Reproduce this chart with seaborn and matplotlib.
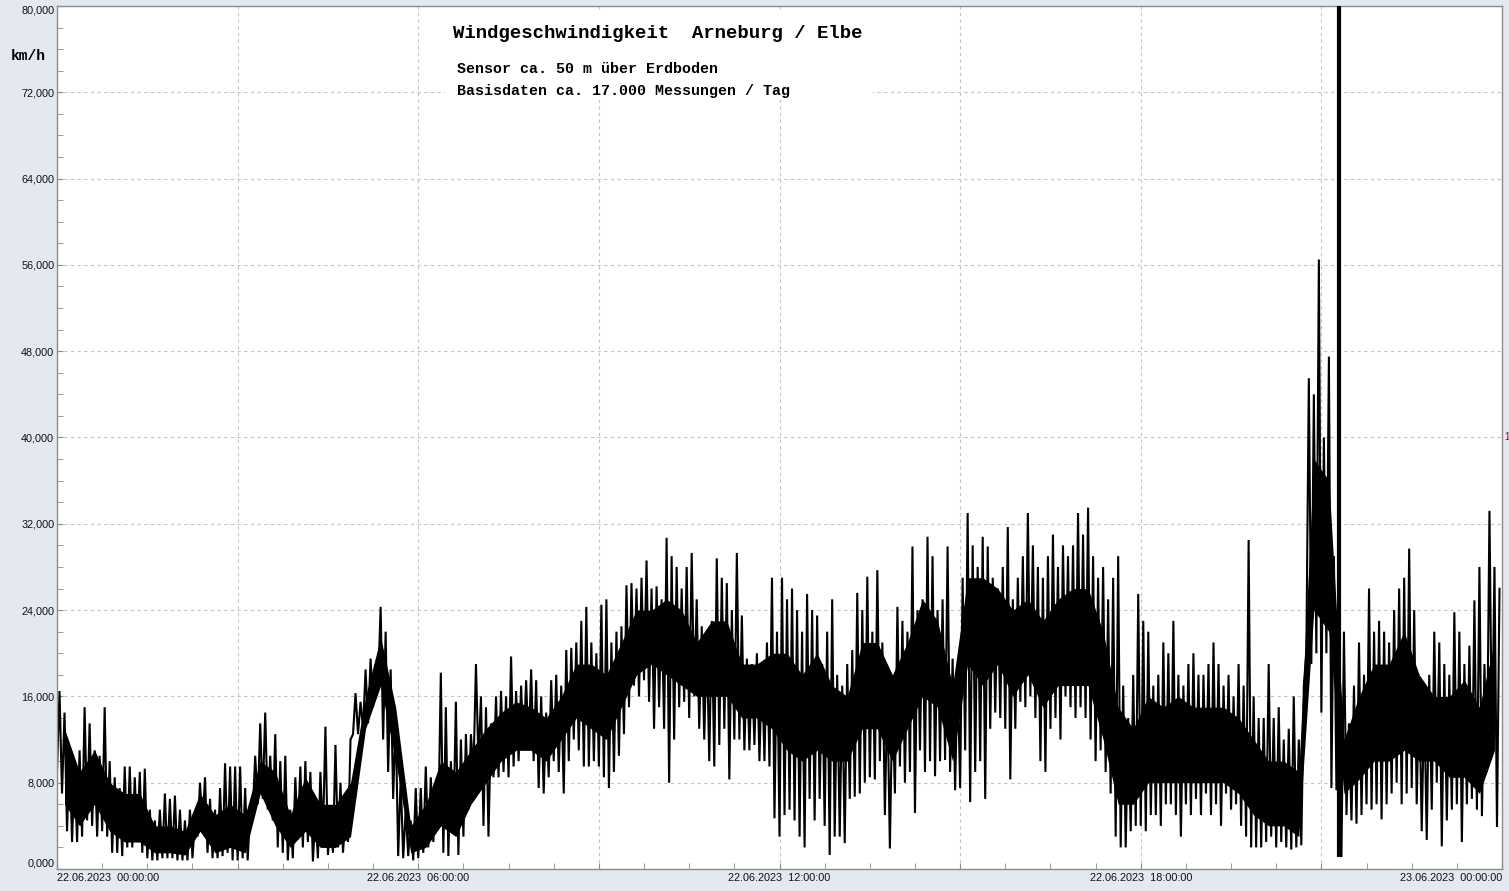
import numpy as np
import pandas as pd
import matplotlib
matplotlib.use("Agg")
import matplotlib.pyplot as plt
import matplotlib.ticker as mticker
import matplotlib.patches as mpatches
import seaborn as sns

# wind speed in km/h, one low and one high reading per 5 minutes (12 per hour)
lo = [
    9, 7, 3.5, 2.5, 2.5, 3, 4.5, 4, 3, 3.5, 3, 1.5,            # 00
    1.5, 1.2, 2, 2, 2.5, 1.5, 1, 0.8, 0.8, 1, 1, 1,            # 01
    0.8, 0.8, 0.8, 1, 3, 4, 1.5, 1, 1, 1.2, 1.5, 0.8,          # 02
    0.8, 1, 0.8, 5, 6, 6.5, 5.5, 4.5, 2, 1.5, 0.8, 1,          # 03
    3, 2, 2.5, 0.7, 1, 3, 1.3, 1.5, 2, 1.5, 2.5, 12.5,         # 04
    12.5, 13, 13.5, 15, 17, 12, 9, 6.5, 1.2, 1, 1.2, 0.8,      # 05
    1, 1.5, 2, 2.5, 4, 1.5, 1.2, 3.5, 1.3, 3, 5.5, 9,          # 06
    10, 4, 3, 8.5, 8.5, 9, 8.5, 9.5, 10, 11, 11, 10,           # 07
    7.5, 7, 8.5, 10, 9, 7, 10, 12, 11, 9.5, 9.5, 10,           # 08
    9.5, 8.5, 7.5, 9, 10.5, 12.5, 15, 17, 16, 17.5, 15.5, 13,  # 09
    15, 13, 8, 12, 15, 15.5, 14, 16, 13, 12, 10, 9.5,          # 10
    11.5, 13, 8.3, 12, 12, 11, 11, 11.5, 10, 10, 9.5, 4.7,     # 11
    3, 5, 5.5, 4.5, 3, 2, 6.5, 4.5, 6.5, 4, 1.3, 3,            # 12
    3, 2.4, 6.5, 6.7, 7, 8, 8.5, 8.3, 10, 5, 1.9, 7,           # 13
    9.5, 8, 9, 5.2, 11, 9, 10, 8.6, 10, 10.1, 9, 7.3,          # 14
    7.5, 11, 6.2, 9, 10, 6.5, 13, 14.5, 14, 13, 8.3, 13,       # 15
    15.5, 15, 16, 14, 10, 9, 13, 14, 12, 16, 15, 14,           # 16
    15, 14, 12, 10, 11, 9, 7, 3, 2, 2, 3.5, 4,                 # 17
    4, 3.5, 5, 5, 4, 6, 6, 5, 3, 6, 5, 6.5,                    # 18
    5, 7, 5, 6, 4, 7, 5.5, 6, 4, 3, 2, 2,                      # 19
    2, 2.5, 3, 2, 2.5, 2, 1.8, 2, 2.2, 20, 19, 20,             # 20
    14.5, 20, 7.5, 7.3, 1.1, 5, 4.5, 4.2, 5, 6, 5.5, 6,        # 21
    4.6, 6, 7, 8, 6, 7, 7.5, 6, 3.5, 2.7, 5.5, 8,              # 22
    2.1, 4.5, 5.5, 6, 2.5, 6, 6.5, 5.5, 4.9, 9, 11, 3.9,       # 23
]
hi = [
    16.5, 14.5, 11, 9.5, 11, 15, 13.5, 11, 10.5, 15, 10, 8.5,          # 00
    7.5, 9.5, 9.5, 8.5, 9, 9.3, 5.5, 4.5, 5.5, 7, 6.5, 6.8,            # 01
    5.5, 4.5, 5.5, 4.5, 8, 8.5, 6.5, 5.5, 7.5, 9.8, 9.5, 9.5,          # 02
    9.5, 7.5, 5.5, 10.5, 13.5, 14.5, 10.5, 12.5, 10, 10.5, 5.5, 8.5,   # 03
    9.5, 10, 9, 5, 9, 13.2, 4.5, 11.5, 8, 5, 12, 16.3,                 # 04
    15.5, 18.5, 19.5, 19, 24.3, 22, 18.5, 14, 8.5, 5.5, 4.5, 7.5,      # 05
    7.5, 9.5, 8.5, 8, 18.2, 15, 10, 15.5, 12, 12.5, 12.5, 19,          # 06
    16, 15, 13.5, 16, 16.5, 16, 19.7, 16.5, 17, 17.5, 18.5, 17.5,      # 07
    16, 14.5, 17.5, 18, 17, 20.3, 20.5, 21, 23, 24.3, 21, 20,          # 08
    24.5, 25, 21, 22, 22.5, 26.3, 26.5, 26, 27, 28.6, 26, 26.2,        # 09
    25, 30.7, 29, 28, 26, 28, 29.3, 25, 22.5, 21.5, 23, 28.8,          # 10
    27, 26.5, 24, 29.3, 23.5, 19.5, 19, 20, 19, 21, 27, 22,            # 11
    27, 25, 26, 24, 22, 25.5, 24, 23.5, 19, 22, 25, 18,                # 12
    17, 19, 20.3, 25.6, 24, 27.1, 22, 27.7, 21, 16.5, 16, 24.3,        # 13
    23, 22, 29.9, 24, 25, 30.8, 29, 24, 25, 29.9, 19.5, 18.5,          # 14
    27, 33, 30, 28, 30.8, 29.9, 27, 26, 28, 31.7, 25, 27,              # 15
    29, 33, 30, 28, 27, 29, 31, 28, 30, 29, 30, 33,                    # 16
    31, 33.5, 29, 27, 28, 25, 27, 29, 17, 14, 18, 25.5,                # 17
    23, 22, 17, 18, 21, 20, 23, 18, 17, 19, 20, 18,                    # 18
    18, 19, 21, 19, 17, 18, 16, 19, 17, 30.5, 16, 14,                  # 19
    14, 19, 14, 15, 12, 13, 16, 12, 17, 45.5, 44, 56.5,                # 20
    40, 47.5, 29, 27, 22, 13.5, 17, 21, 18, 26, 22, 23,                # 21
    22, 21, 24, 26, 27, 29.7, 24, 17, 16, 18, 22, 21,                  # 22
    19, 18, 23.8, 22, 19, 20.7, 24.9, 28, 19, 33.2, 28, 26,            # 23
]

# dense core of the trace, per 15 minutes (4 per hour)
band_lo = [
    6, 4, 6, 3.5,  2.5, 2.5, 1.5, 1.5,  1.3, 3.5, 1.5, 2,  1.5, 7, 4, 2,          # 00-03
    3.5, 2, 2, 3,  13, 17, 10, 1.5,  2, 4, 3, 6,  8, 10, 11, 11,                  # 04-07
    10, 12, 14, 13,  12, 15, 18, 19,  18, 17, 16, 16,  16, 14, 14, 13,            # 08-11
    11, 10, 11, 10,  10, 13, 13, 10,  13, 16, 15, 10,  19, 17, 19, 16,            # 12-15
    18, 15, 17, 17,  17, 12, 6, 6,  8, 8, 8, 8,  8, 8, 7, 5,                      # 16-19
    4, 4, 3, 24,  22, 7, 8.3, 10,  10, 11, 10, 10,  8.5, 8.5, 7, 11,              # 20-23
]
band_hi = [
    13, 9, 11, 8,  7, 7, 4, 4,  3.5, 7, 5, 6,  5, 10, 9, 5,                       # 00-03
    8.5, 6, 6, 8,  16, 21.5, 15, 4,  6, 10, 9, 11,  13, 14.5, 15.5, 15,           # 04-07
    14, 16, 19, 19,  18, 21, 24, 24,  25, 24, 21, 23,  23, 19, 19, 20,            # 08-11
    20, 18, 20, 17,  16, 21, 21, 18,  21, 25, 23, 17,  27, 27, 26, 24,            # 12-15
    25, 23, 25, 26,  26, 22, 15, 13,  16, 15, 16, 15,  15, 15, 14, 12,            # 16-19
    10, 10, 9, 38,  36, 12, 16, 19,  19, 22, 18, 16,  16, 17.5, 15, 21,           # 20-23
]

# sensor outlier (thick black bar)
spike_time = "2023-06-22 21:18"
spike_low = 1.1
spike_high = 80

day_start = pd.Timestamp("2023-06-22 00:00")
day_end = pd.Timestamp("2023-06-23 00:00")
y_ticks = list(range(0, 81, 8))

title = "Windgeschwindigkeit  Arneburg / Elbe"
sub1 = "Sensor ca. 50 m über Erdboden"
sub2 = "Basisdaten ca. 17.000 Messungen / Tag"

# build the series: low then high reading inside each 5-minute slot
t = pd.date_range(day_start, periods=len(lo), freq="5min")
df = pd.DataFrame({
    "time": np.concatenate([t.values, (t + pd.Timedelta("150s")).values]),
    "kmh": lo + hi,
}).sort_values("time")

# core band sits at the middle of each quarter hour
tq = pd.date_range(day_start + pd.Timedelta("450s"), periods=len(band_lo), freq="15min")
band = pd.DataFrame({"time": tq, "lo": band_lo, "hi": band_hi})

sns.set_style("white")
plt.rcParams["font.family"] = ["Liberation Sans", "DejaVu Sans"]

W, H = 1509, 891
fig = plt.figure(figsize=(W / 100, H / 100), dpi=100, facecolor="#e4e8f0")
ax = fig.add_axes([57 / W, 1 - 869 / H, (1502 - 57) / W, (869 - 6) / H])
ax.set_facecolor("white")

ax.fill_between(band["time"], band["lo"], band["hi"], color="black", lw=0, zorder=2)
sns.lineplot(data=df, x="time", y="kmh", color="black", lw=1.5,
             estimator=None, sort=False, ax=ax)
ax.lines[-1].set_solid_joinstyle("miter")
ax.vlines(pd.Timestamp(spike_time), spike_low, spike_high, colors="black", lw=3, zorder=3)

ax.set_xlim(day_start, day_end)
ax.set_ylim(0, 80)
ax.set_xlabel("")
ax.set_ylabel("")

# x ticks: grid every 3 h, labels every 6 h, small ticks every 45 min
xt = pd.date_range(day_start, day_end, freq="3h")
ax.set_xticks(xt)
xl = [f"{d:%d.%m.%Y}  {d:%H:%M:%S}" if d.hour % 6 == 0 else "" for d in xt]
ax.set_xticklabels(xl)
ax.xaxis.set_minor_locator(mticker.MultipleLocator(45 / 1440))
xlabs = ax.get_xticklabels()
xlabs[0].set_ha("left")
xlabs[-1].set_ha("right")

ax.set_yticks(y_ticks)
ax.set_yticklabels([f"{v:.3f}".replace(".", ",") for v in y_ticks])
ax.yaxis.set_minor_locator(mticker.MultipleLocator(2))
ylabs = ax.get_yticklabels()
ylabs[0].set_va("bottom")
ylabs[-1].set_va("top")

ax.tick_params(axis="both", which="both", direction="in", color="#8c8c8c",
               bottom=True, left=True, labelsize=7.8, labelcolor="#111111")
ax.tick_params(axis="both", which="major", length=4, pad=3)
ax.tick_params(axis="both", which="minor", length=4)
ax.tick_params(axis="y", which="major", pad=2)

ax.grid(which="major", ls=(0, (3, 3)), color="#c4c4c4", lw=0.8)
ax.set_axisbelow(True)
for s in ax.spines.values():
    s.set_color("#8c8c8c")
    s.set_linewidth(1)

# white panel behind the heading
ax.add_patch(mpatches.Rectangle((445 / W, 1 - 100 / H), (873 - 445) / W, 90 / H,
                                transform=fig.transFigure, facecolor="white",
                                edgecolor="none", zorder=1))

mono = ["Liberation Mono", "DejaVu Sans Mono"]
fig.text(453 / W, 1 - 33 / H, title, family=mono, weight="bold", fontsize=13.7,
         va="center", ha="left", color="black")
fig.text(457 / W, 1 - 69 / H, sub1, family=mono, weight="bold", fontsize=10.8,
         va="center", ha="left", color="black")
fig.text(457 / W, 1 - 91 / H, sub2, family=mono, weight="bold", fontsize=10.8,
         va="center", ha="left", color="black")
fig.text(28 / W, 1 - 56 / H, "km/h", family=mono, weight="bold", fontsize=10.5,
         va="center", ha="center", color="black")
fig.text(1504 / W, 1 - 437 / H, "1", color="#7a0a2a", fontsize=7,
         va="center", ha="left")

fig.savefig("out.png", dpi=100, facecolor=fig.get_facecolor())
